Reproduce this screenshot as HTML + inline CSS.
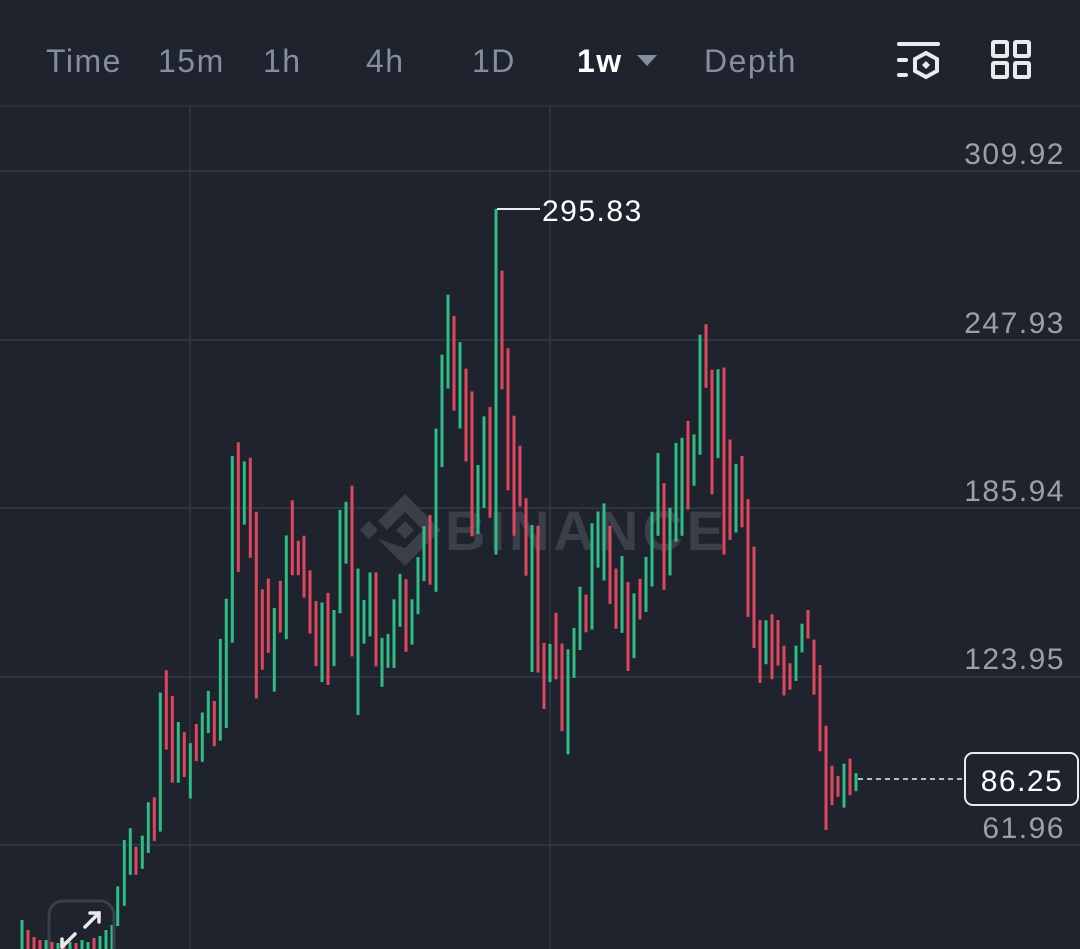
<!DOCTYPE html>
<html><head><meta charset="utf-8"><style>
html,body{margin:0;padding:0;background:#1f232d;}
body{width:1080px;height:949px;overflow:hidden;position:relative;font-family:"Liberation Sans",sans-serif;}
.hdr{position:absolute;top:0;left:0;width:1080px;height:105px;border-bottom:2px solid #2a2f3a;}
.t{position:absolute;top:43px;font-size:32px;letter-spacing:1.5px;color:#848e9c;}
.lab{position:absolute;right:15px;font-size:30px;letter-spacing:1.5px;color:#9aa0aa;}
</style></head><body>
<div class="hdr">
<span class="t" style="left:46px">Time</span>
<span class="t" style="left:158px">15m</span>
<span class="t" style="left:263px">1h</span>
<span class="t" style="left:366px">4h</span>
<span class="t" style="left:472px">1D</span>
<span class="t" style="left:577px;color:#fff;font-weight:bold">1w</span>
<span class="t" style="left:704px">Depth</span>
<svg style="position:absolute;left:0;top:0" width="1080" height="105">
<polygon points="637,55 657,55 647,66" fill="#848e9c"/>
<g stroke="#e9eaec" stroke-width="4" fill="none" stroke-linecap="round">
<line x1="899" y1="44" x2="938" y2="44"/><line x1="899" y1="60" x2="906" y2="60"/><line x1="899" y1="75" x2="906" y2="75"/>
<polygon points="926,53 937,59 937,71 926,77 915,71 915,59"/>
<rect x="993" y="42" width="14" height="14" rx="1"/><rect x="1015" y="42" width="14" height="14" rx="1"/>
<rect x="993" y="63" width="14" height="14" rx="1"/><rect x="1015" y="63" width="14" height="14" rx="1"/>
</g>
<polygon points="926,61 930,65 926,69 922,65" fill="#e9eaec"/>
</svg>
</div>
<svg id="c" style="position:absolute;left:0;top:0" width="1080" height="949">
<g stroke="#2e333e" stroke-width="2">
<line x1="0" y1="171" x2="1080" y2="171"/><line x1="0" y1="340" x2="1080" y2="340"/>
<line x1="0" y1="508" x2="1080" y2="508"/><line x1="0" y1="677" x2="1080" y2="677"/>
<line x1="0" y1="845" x2="1080" y2="845"/>
<line x1="190" y1="107" x2="190" y2="949"/><line x1="550" y1="107" x2="550" y2="949"/>
</g>
<g fill="#3a3f4a">
<polygon points="405,494 432,521 423,530 405,512 387,530 378,521"/>
<polygon points="405,548 432,521 441,530 405,566 369,530 378,539"/>
<polygon points="405,521 414,530 405,539 396,530"/>
<polygon points="369,521 378,530 369,539 360,530"/>
<text x="445" y="550" font-size="56" font-weight="bold" font-family="Liberation Sans,sans-serif" letter-spacing="4">BINANCE</text>
</g>
<g id="bars"></g>
<line x1="497" y1="209" x2="540" y2="209" stroke="#e9eaec" stroke-width="2"/>
<text x="542" y="221" font-size="30" letter-spacing="1.5" fill="#ffffff" font-family="Liberation Sans,sans-serif">295.83</text>
<line x1="858" y1="779" x2="962" y2="779" stroke="#e9eaec" stroke-width="1.5" stroke-dasharray="5,4"/>
<rect x="965" y="753" width="113" height="52" rx="8" fill="#1f232d" stroke="#e9eaec" stroke-width="2"/>
<text x="1022" y="791" font-size="30" letter-spacing="1.5" fill="#fff" text-anchor="middle" font-family="Liberation Sans,sans-serif">86.25</text>
<rect x="49" y="901" width="65" height="60" rx="14" fill="none" stroke="#3a3f4a" stroke-width="3"/>
<g stroke="#e9eaec" stroke-width="3.5" stroke-linecap="round" fill="none">
<line x1="85" y1="927" x2="99" y2="913"/><polyline points="90,913 99,913 99,922"/>
<line x1="62" y1="947" x2="75" y2="934"/><polyline points="62,939 62,947"/>
</g>
</svg>
<span class="lab" style="top:138px">309.92</span>
<span class="lab" style="top:307px">247.93</span>
<span class="lab" style="top:475px">185.94</span>
<span class="lab" style="top:643px">123.95</span>
<span class="lab" style="top:812px">61.96</span>
<script>
var G="#2ebd85",R="#e0475e";
var z1=[[353,1382,1500,G],[373,1245,1440,G],[391,1210,1348,G],[408,1265,1348,R],[427,1232,1330,G],[445,1133,1283,G],[463,1118,1248,R],[481,808,1220,G],[499,742,977,R],[517,818,1075,R],[535,895,1075,G],[553,925,1058,R],[571,958,1122,G],[589,901,1011,R],[607,867,1013,G],[625,803,928,G],[643,833,967,R],[661,649,950,G],[679,530,913,G],[697,107,660,G],[715,66,450,R],[733,123,310,G],[751,112,408,R],[769,272,825,R],[787,502,740,R],[805,470,690,R],[823,557,805,G],[841,477,630,R],[859,342,650,G],[877,238,460,R],[895,358,460,R]];
var z2=[[12,940,1113,R],[30,1037,1214,R],[48,1123,1305,R],[66,1127,1350,G],[84,1100,1358,R],[102,1148,1305,G],[120,868,1157,G],[138,845,1018,G],[156,800,1278,R],[174,1032,1442,G],[192,1120,1242,G],[210,1043,1222,G],[228,1043,1306,R],[246,1226,1363,G],[264,1215,1310,G],[282,1118,1310,G],[300,1047,1195,G],[318,1062,1265,R],[336,1118,1245,G],[354,1000,1160,G],[372,913,1067,G],[390,882,1077,R],[408,640,1097,G],[426,433,748,G],[444,265,528,G],[462,325,590,R],[480,398,640,G],[498,472,732,R],[516,536,942,R],[534,742,935,G],[552,606,862,G],[570,580,890,R],[588,25,993,G],[606,198,530,R],[624,415,813,R],[642,604,940,R],[660,688,858,R],[678,835,1052,R],[696,910,1322,G],[714,912,1323,R],[732,1240,1425,R],[750,1243,1350,G],[768,1156,1342,R],[786,1242,1487,R],[804,1258,1552,G],[822,1198,1338,G],[840,1083,1260,G],[858,1105,1210,R],[876,905,1200,G]];
var z3=[[0,820,1005,G],[18,843,953,R],[36,632,945,G],[54,596,762,G],[72,572,800,G],[90,638,870,R],[108,765,943,R],[126,728,955,G],[144,805,1068,R],[162,838,1030,G],[180,795,915,R],[198,730,893,G],[216,597,818,G],[234,423,668,G],[252,512,828,R],[270,585,785,G],[288,393,685,G],[306,378,668,G],[324,328,590,R],[342,368,520,G],[360,73,428,G],[378,42,230,R],[396,177,545,R],[414,175,438,G],[432,170,723,R],[450,383,680,R],[468,455,658,G],[486,432,643,R],[504,560,908,R],[522,700,1000,R],[540,917,1103,R],[558,918,1048,G],[576,900,1092,R],[594,917,1052,R],[612,993,1140,R],[630,1045,1123,R],[648,993,1097,G],[666,928,1013,G],[684,887,972,R],[702,975,1138,R],[720,1050,1305,R],[738,1230,1538,R],[756,1348,1465,R],[774,1378,1440,R],[792,1342,1472,G],[810,1327,1435,R],[828,1370,1423,G]];
var bars=[[22,920,949,G],[28,930,949,R],[34,937,949,R],[40,940,949,R],[46,940,949,G],[52,942,949,R],[58,943,949,G],[64,941,949,R],[70,942,949,G],[76,943,949,R],[82,940,949,G],[88,942,949,G],[94,938,949,R],[100,936,949,G],[106,930,949,G],[112,925,949,G]];
z1.forEach(function(b){bars.push([b[0]/3,420+b[1]/2.964,420+b[2]/2.964,b[3]]);});
z2.forEach(function(b){bars.push([300+b[0]/3,200+b[1]/2.8,200+b[2]/2.8,b[3]]);});
z3.forEach(function(b){bars.push([580+b[0]/3,310+b[1]/2.958,310+b[2]/2.958,b[3]]);});
var s="";
bars.forEach(function(b){s+='<rect x="'+(b[0]-1.5).toFixed(1)+'" y="'+b[1].toFixed(1)+'" width="3" height="'+(b[2]-b[1]).toFixed(1)+'" fill="'+b[3]+'"/>';});
document.getElementById("bars").innerHTML=s;
</script>
</body></html>
